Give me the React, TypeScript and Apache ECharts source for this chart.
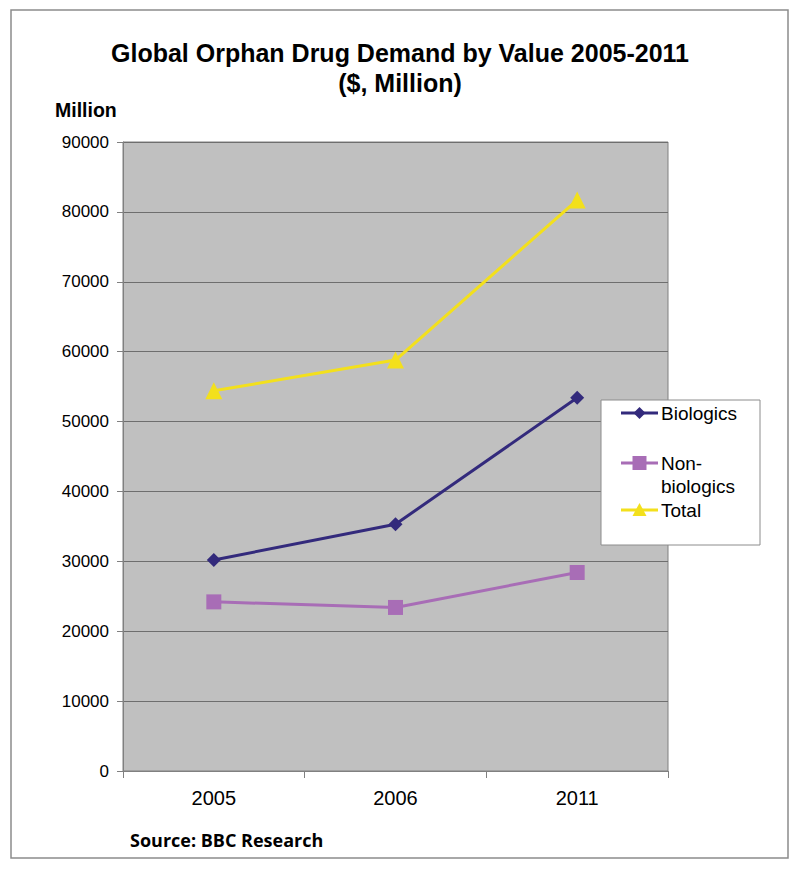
import React, { useEffect, useRef } from "react";
import * as echarts from "echarts";

const categories = ["2005", "2006", "2011"];
const biologics = [30200, 35300, 53400];
const nonBiologics = [24200, 23400, 28400];
const total = [54400, 58800, 81700];
const seriesNames = ["Biologics", "Non-biologics", "Total"];
const yTicks = { min: 0, max: 90000, interval: 10000 };

const C_BIO = "#332a7c";
const C_NON = "#a86db6";
const C_TOT = "#f3e01c";
const FONT = "Liberation Sans";

export default function App() {
  const ref = useRef<HTMLDivElement>(null);
  useEffect(() => {
    const chart = echarts.init(ref.current!, undefined, { renderer: "svg" });
    const lx1 = 621, lx2 = 658, tx = 661;
    const legendRows = [
      { y: 413, color: C_BIO, sym: "diamond", text: seriesNames[0] },
      { y: 463, color: C_NON, sym: "square", text: "Non-\nbiologics" },
      { y: 510, color: C_TOT, sym: "triangle", text: seriesNames[2] },
    ];
    const legendEls: any[] = [];
    legendRows.forEach((r) => {
      legendEls.push({
        type: "line",
        z: 20,
        shape: { x1: lx1, y1: r.y, x2: lx2, y2: r.y },
        style: { stroke: r.color, lineWidth: 3 },
      });
      const cx = (lx1 + lx2) / 2;
      if (r.sym === "diamond") {
        legendEls.push({
          type: "polygon",
          z: 21,
          shape: { points: [[cx, r.y - 6], [cx + 6, r.y], [cx, r.y + 6], [cx - 6, r.y]] },
          style: { fill: r.color },
        });
      } else if (r.sym === "square") {
        legendEls.push({
          type: "rect",
          z: 21,
          shape: { x: cx - 7, y: r.y - 7, width: 14, height: 14 },
          style: { fill: r.color },
        });
      } else {
        legendEls.push({
          type: "polygon",
          z: 21,
          shape: { points: [[cx, r.y - 7], [cx + 7, r.y + 6], [cx - 7, r.y + 6]] },
          style: { fill: r.color },
        });
      }
      legendEls.push({
        type: "text",
        z: 21,
        x: tx,
        y: r.y - 11,
        style: {
          text: r.text,
          fontFamily: FONT,
          fontSize: 19,
          fill: "#000",
          lineHeight: 23,
          verticalAlign: "top",
        },
      });
    });

    chart.setOption({
      animation: false,
      backgroundColor: "#ffffff",
      title: {
        text: "Global Orphan Drug Demand by Value 2005-2011\n($, Million)",
        left: "center",
        top: 33,
        textStyle: {
          fontFamily: FONT,
          fontSize: 25,
          fontWeight: "bold",
          color: "#000",
          lineHeight: 30,
        },
      },
      grid: {
        left: 123,
        top: 142,
        width: 545,
        height: 629,
        show: true,
        backgroundColor: "#c0c0c0",
        borderColor: "#808080",
        borderWidth: 1,
      },
      xAxis: {
        type: "category",
        data: categories,
        boundaryGap: true,
        axisLine: { show: true, lineStyle: { color: "#808080", width: 1 } },
        axisTick: { show: true, length: 7, lineStyle: { color: "#808080" } },
        axisLabel: { fontFamily: FONT, fontSize: 20, color: "#000", margin: 17 },
      },
      yAxis: {
        type: "value",
        min: yTicks.min,
        max: yTicks.max,
        interval: yTicks.interval,
        axisLine: { show: true, lineStyle: { color: "#808080", width: 1 } },
        axisTick: { show: true, length: 6, lineStyle: { color: "#808080" } },
        axisLabel: {
          fontFamily: FONT,
          fontSize: 17,
          color: "#000",
          margin: 14,
          formatter: (v: number) => String(v),
        },
        splitLine: { show: true, lineStyle: { color: "#6e6e6e", width: 1 } },
      },
      series: [
        {
          name: seriesNames[0],
          type: "line",
          data: biologics,
          symbol: "diamond",
          symbolSize: 14,
          lineStyle: { color: C_BIO, width: 3 },
          itemStyle: { color: C_BIO },
        },
        {
          name: seriesNames[1],
          type: "line",
          data: nonBiologics,
          symbol: "rect",
          symbolSize: 15,
          lineStyle: { color: C_NON, width: 3 },
          itemStyle: { color: C_NON },
        },
        {
          name: seriesNames[2],
          type: "line",
          data: total,
          symbol: "triangle",
          symbolSize: 17,
          lineStyle: { color: C_TOT, width: 3 },
          itemStyle: { color: C_TOT },
        },
      ],
      graphic: [
        {
          type: "rect",
          shape: { x: 11, y: 10, width: 777, height: 848 },
          style: { fill: "none", stroke: "#8c8c8c", lineWidth: 1.5 },
          z: -1,
        },
        {
          type: "text",
          x: 55,
          y: 100,
          style: { text: "Million", fontFamily: FONT, fontWeight: "bold", fontSize: 19.5, fill: "#000" },
        },
        {
          type: "text",
          x: 130,
          y: 831,
          style: { text: "Source: BBC Research", fontFamily: "Open Sans", fontWeight: "bold", fontSize: 18, fill: "#000" },
        },
        {
          type: "rect",
          shape: { x: 601, y: 400, width: 159, height: 145 },
          style: { fill: "#ffffff", stroke: "#8c8c8c", lineWidth: 1 },
          z: 10,
        },
        ...legendEls,
      ],
    });
    return () => chart.dispose();
  }, []);
  return (
    <div
      ref={ref}
      style={{ position: "absolute", left: 0, top: 0, width: 800, height: 871 }}
    />
  );
}
